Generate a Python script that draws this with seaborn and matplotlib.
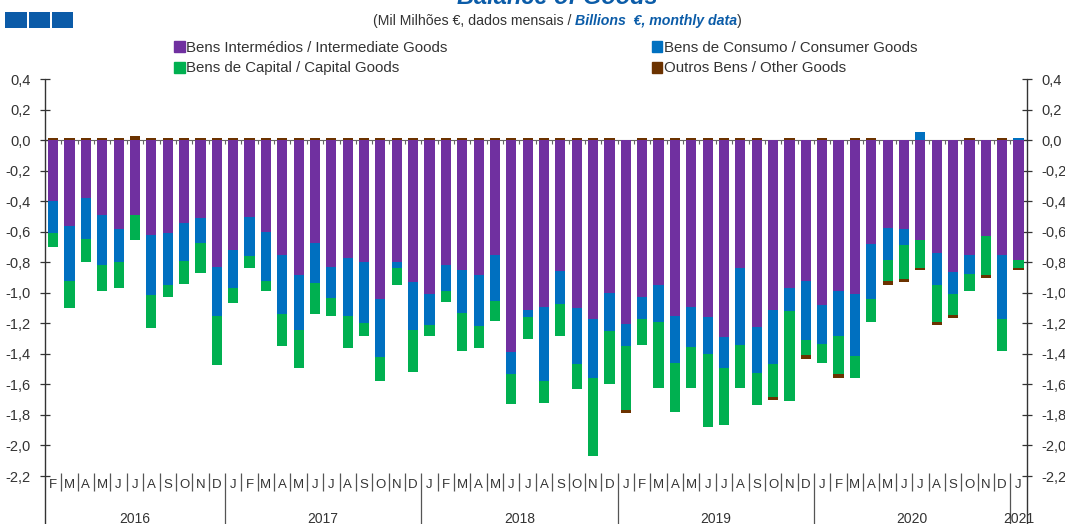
import numpy as np
import pandas as pd
import matplotlib
matplotlib.use("Agg")
import matplotlib.pyplot as plt
import seaborn as sns
from matplotlib.patches import Rectangle, Patch
from matplotlib.lines import Line2D

# months Feb 2016 .. Jan 2021
periods = pd.period_range("2016-02", "2021-01", freq="M")
month_letters = ["J", "F", "M", "A", "M", "J", "J", "A", "S", "O", "N", "D"]

intermediate = [
    -0.40, -0.56, -0.38, -0.49, -0.58, -0.49, -0.62, -0.61, -0.54, -0.51, -0.83,
    -0.72, -0.505, -0.60, -0.75, -0.885, -0.67, -0.83, -0.77, -0.80, -1.04, -0.80, -0.93,
    -1.01, -0.82, -0.85, -0.885, -0.75, -1.385, -1.11, -1.09, -0.856, -1.10, -1.174, -1.00,
    -1.205, -1.03, -0.95, -1.15, -1.094, -1.16, -1.29, -0.834, -1.224, -1.11, -0.97, -0.92,
    -1.08, -0.99, -1.01, -0.68, -0.573, -0.58, -0.651, -0.74, -0.863, -0.754, -0.63, -0.754,
    -0.782,
]
consumer = [
    -0.21, -0.36, -0.265, -0.33, -0.22, 0.005, -0.395, -0.335, -0.25, -0.16, -0.32,
    -0.245, -0.255, -0.32, -0.39, -0.355, -0.265, -0.205, -0.38, -0.395, -0.38, -0.04, -0.31,
    -0.20, -0.17, -0.28, -0.335, -0.30, -0.145, -0.05, -0.49, -0.218, -0.366, -0.386, -0.25,
    -0.145, -0.14, -0.24, -0.307, -0.263, -0.24, -0.205, -0.508, -0.299, -0.356, -0.148, -0.39,
    -0.255, -0.29, -0.404, -0.357, -0.209, -0.108, 0.057, -0.21, -0.147, -0.124, 0.0, -0.414,
    0.012,
]
capital = [
    -0.09, -0.18, -0.155, -0.17, -0.17, -0.166, -0.215, -0.085, -0.15, -0.20, -0.32,
    -0.10, -0.08, -0.07, -0.21, -0.25, -0.205, -0.115, -0.21, -0.085, -0.16, -0.105, -0.28,
    -0.07, -0.07, -0.25, -0.14, -0.135, -0.20, -0.14, -0.14, -0.206, -0.164, -0.51, -0.35,
    -0.42, -0.17, -0.435, -0.323, -0.268, -0.476, -0.37, -0.283, -0.211, -0.214, -0.588, -0.10,
    -0.125, -0.25, -0.146, -0.153, -0.138, -0.218, -0.186, -0.24, -0.136, -0.109, -0.255, -0.212,
    -0.055,
]
other = [
    0.015, 0.015, 0.015, 0.015, 0.015, 0.025, 0.015, 0.015, 0.015, 0.015, 0.015,
    0.015, 0.015, 0.015, 0.015, 0.015, 0.015, 0.015, 0.015, 0.015, 0.015, 0.015, 0.015,
    0.015, 0.015, 0.015, 0.015, 0.015, 0.015, 0.015, 0.015, 0.015, 0.015, 0.015, 0.015,
    -0.015, 0.015, 0.015, 0.015, 0.015, 0.015, 0.015, 0.015, 0.015, -0.02, 0.015, -0.02,
    0.015, -0.025, 0.015, 0.015, -0.03, -0.02, -0.015, -0.02, -0.02, 0.015, -0.02, 0.015,
    -0.015,
]

labels = {
    "intermediate": "Bens Intermédios / Intermediate Goods",
    "consumer": "Bens de Consumo / Consumer Goods",
    "capital": "Bens de Capital / Capital Goods",
    "other": "Outros Bens / Other Goods",
}
palette = {
    "intermediate": "#7030A0",
    "consumer": "#0070C0",
    "capital": "#00B050",
    "other": "#6B3200",
}
stack_order = ["intermediate", "consumer", "capital", "other"]

sns.set_style("white")
plt.rcParams["font.family"] = ["Liberation Sans", "DejaVu Sans"]
text_col = "#333333"
W, H = 1065, 524

df = pd.DataFrame({
    "period": periods.strftime("%Y-%m"),
    "intermediate": intermediate,
    "consumer": consumer,
    "capital": capital,
    "other": other,
})
neg = df[stack_order].clip(upper=0).cumsum(axis=1)
pos = df[stack_order].clip(lower=0).cumsum(axis=1)
neg["period"] = df["period"]
pos["period"] = df["period"]
order = list(df["period"])

fig = plt.figure(figsize=(W / 100, H / 100), dpi=100)
ax = fig.add_axes([45 / W, 1 - 476 / H, (1026.7 - 45) / W, (476 - 79.3) / H])

# stacked bars: draw deepest cumulative first, then overlay the shorter ones
for col in reversed(stack_order):
    for part in (neg, pos):
        sns.barplot(data=part, x="period", y=col, order=order, color=palette[col],
                    saturation=1, width=0.62, errorbar=None, linewidth=0, ax=ax)

ax.set_xlim(-0.5, len(order) - 0.5)
ax.set_ylim(-2.2, 0.4)
ax.set_xlabel("")
ax.set_ylabel("")
for s in ax.spines.values():
    s.set_visible(False)

# zero line with category ticks
ax.axhline(0, color="#666666", lw=0.8, zorder=0.5)
ax.vlines(np.arange(1, len(order)) - 0.5, -0.025, 0, color="#666666", lw=0.8, zorder=0.5)

# y axis both sides
yt = np.round(np.linspace(-2.2, 0.4, 14), 1)
ax.set_yticks(yt)
ax.set_yticklabels([("%.1f" % (v + 0.0)).replace(".", ",").replace("-0,0", "0,0") for v in yt])
ax.tick_params(axis="y", direction="inout", length=6.5, width=0.9, colors=text_col,
               labelsize=10.5, left=True, right=True, labelleft=True, labelright=True, pad=7)

# month letters
ax.set_xticks(range(len(order)))
ax.set_xticklabels([month_letters[p.month - 1] for p in periods])
ax.tick_params(axis="x", length=0, pad=2, labelsize=9.5, colors=text_col)

trans = ax.get_xaxis_transform()
jan_idx = [i for i, p in enumerate(periods) if p.month == 1]
short_b = [i - 0.5 for i in range(1, len(order)) if i not in jan_idx]
long_b = [i - 0.5 for i in jan_idx]
ax.vlines(short_b, -0.037, 0.008, transform=trans, clip_on=False, color="#555555", lw=0.9)
ax.vlines(long_b, -0.125, 0.008, transform=trans, clip_on=False, color="#555555", lw=0.9)

years = sorted(set(p.year for p in periods))
for y in years:
    idx = [i for i, p in enumerate(periods) if p.year == y]
    ax.text(np.mean(idx), -0.108, str(y), transform=trans, ha="center", va="center",
            fontsize=10, color=text_col, clip_on=False)

# axis lines running down through the label rows
for xp in (45, 1026.7):
    fig.add_artist(Line2D([xp / W, xp / W], [1 - 79.3 / H, 0], transform=fig.transFigure,
                          color=text_col, lw=1))

# legend
handles = [Patch(color=palette[c]) for c in ["intermediate", "capital", "consumer", "other"]]
leg_labels = [labels[c] for c in ["intermediate", "capital", "consumer", "other"]]
fig.legend(handles, leg_labels, loc="upper left", bbox_to_anchor=(174 / W, 1 - 40.5 / H),
           ncol=2, frameon=False, fontsize=10.8, handlelength=0.7, handleheight=0.75,
           handletextpad=0.12, columnspacing=13.6, labelspacing=0.45, borderpad=0,
           borderaxespad=0, labelcolor=text_col)

# header: logo squares, title, subtitle
for x0 in (5, 28.5, 52):
    fig.add_artist(Rectangle((x0 / W, 1 - 28 / H), 21.5 / W, 16 / H,
                             transform=fig.transFigure, color="#0B5BA8", lw=0))
fig.text(557 / W, 1 - 4 / H, "Balance of Goods", ha="center", va="baseline",
         fontsize=17, fontweight="bold", style="italic", color="#0B5CA8")

renderer = fig.canvas.get_renderer()
parts = [
    ("(Mil Milhões €, dados mensais / ", dict(color=text_col)),
    ("Billions  €, monthly data", dict(color="#0B5CA8", fontweight="bold", style="italic")),
    (")", dict(color=text_col)),
]
xpos = 373
for txt, kw in parts:
    t = fig.text(xpos / W, 1 - 21 / H, txt, ha="left", va="center", fontsize=10.2, **kw)
    xpos = t.get_window_extent(renderer).x1

fig.savefig("out.png", dpi=100)
